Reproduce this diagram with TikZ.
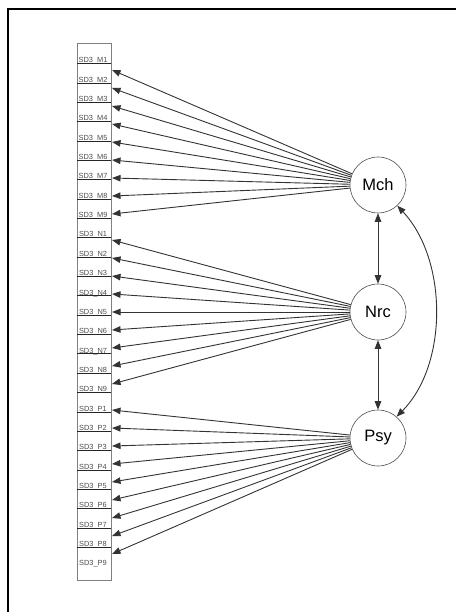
\documentclass[tikz,border=0pt]{standalone}
\usepackage{fontspec}
\setmainfont{Liberation Sans}
\usetikzlibrary{arrows.meta}
\begin{document}
\begin{tikzpicture}[x=1pt,y=-1pt,
  latent/.style={circle,draw=black!70,line width=0.6pt,minimum size=56pt,inner sep=0pt,font=\fontsize{16.5}{18}\selectfont},
  ind/.style={font=\fontsize{7.4}{8}\selectfont,text=black!70,inner sep=0pt},
  uline/.style={draw=black!85,line width=0.6pt},
  load/.style={-{Triangle[length=8.5pt,width=6.5pt]},line width=0.9pt,draw=black!80},
  cov/.style={{Triangle[length=8.5pt,width=6.5pt]}-{Triangle[length=8.5pt,width=6.5pt]},line width=0.9pt,draw=black!80}]
\useasboundingbox (0,0) rectangle (456,612);
\draw[line width=2.5pt] (8,612) -- (8,9) -- (456,9);
\node[draw=black!50, line width=0.6pt, minimum width=34pt, minimum height=537pt, inner sep=0pt] (box) at (94,311.5) {};
\node[latent] (mch) at (378,185) {Mch};
\node[latent] (nrc) at (378,312) {Nrc};
\node[latent] (psy) at (378,438) {Psy};
\foreach \g/\lat/\ty [count=\gi from 0] in {M/mch/70,N/nrc/240,P/psy/410} {
  \foreach \k in {1,...,9} {
    \pgfmathsetmacro\yy{61+19.35*(9*\gi+\k-1)}
    \node[ind] (l\g\k) at (93,\yy) {SD3\_\g\k};
    \pgfmathsetmacro\ty{\ty+18*(\k-1)}
    \coordinate (t\g\k) at (112,\ty);
    \draw[load] (\lat) -- (t\g\k);
  }
}
\foreach \i in {0,...,25} {
  \pgfmathsetmacro\yy{61+19.35*\i+2.5}
  \draw[uline] (77,\yy) -- (111,\yy);
}
\draw[cov] (mch) -- (nrc);
\draw[cov] (nrc) -- (psy);
\draw[cov] (mch.-47) .. controls (448,260) and (448,365) .. (psy.49);
\end{tikzpicture}
\end{document}
